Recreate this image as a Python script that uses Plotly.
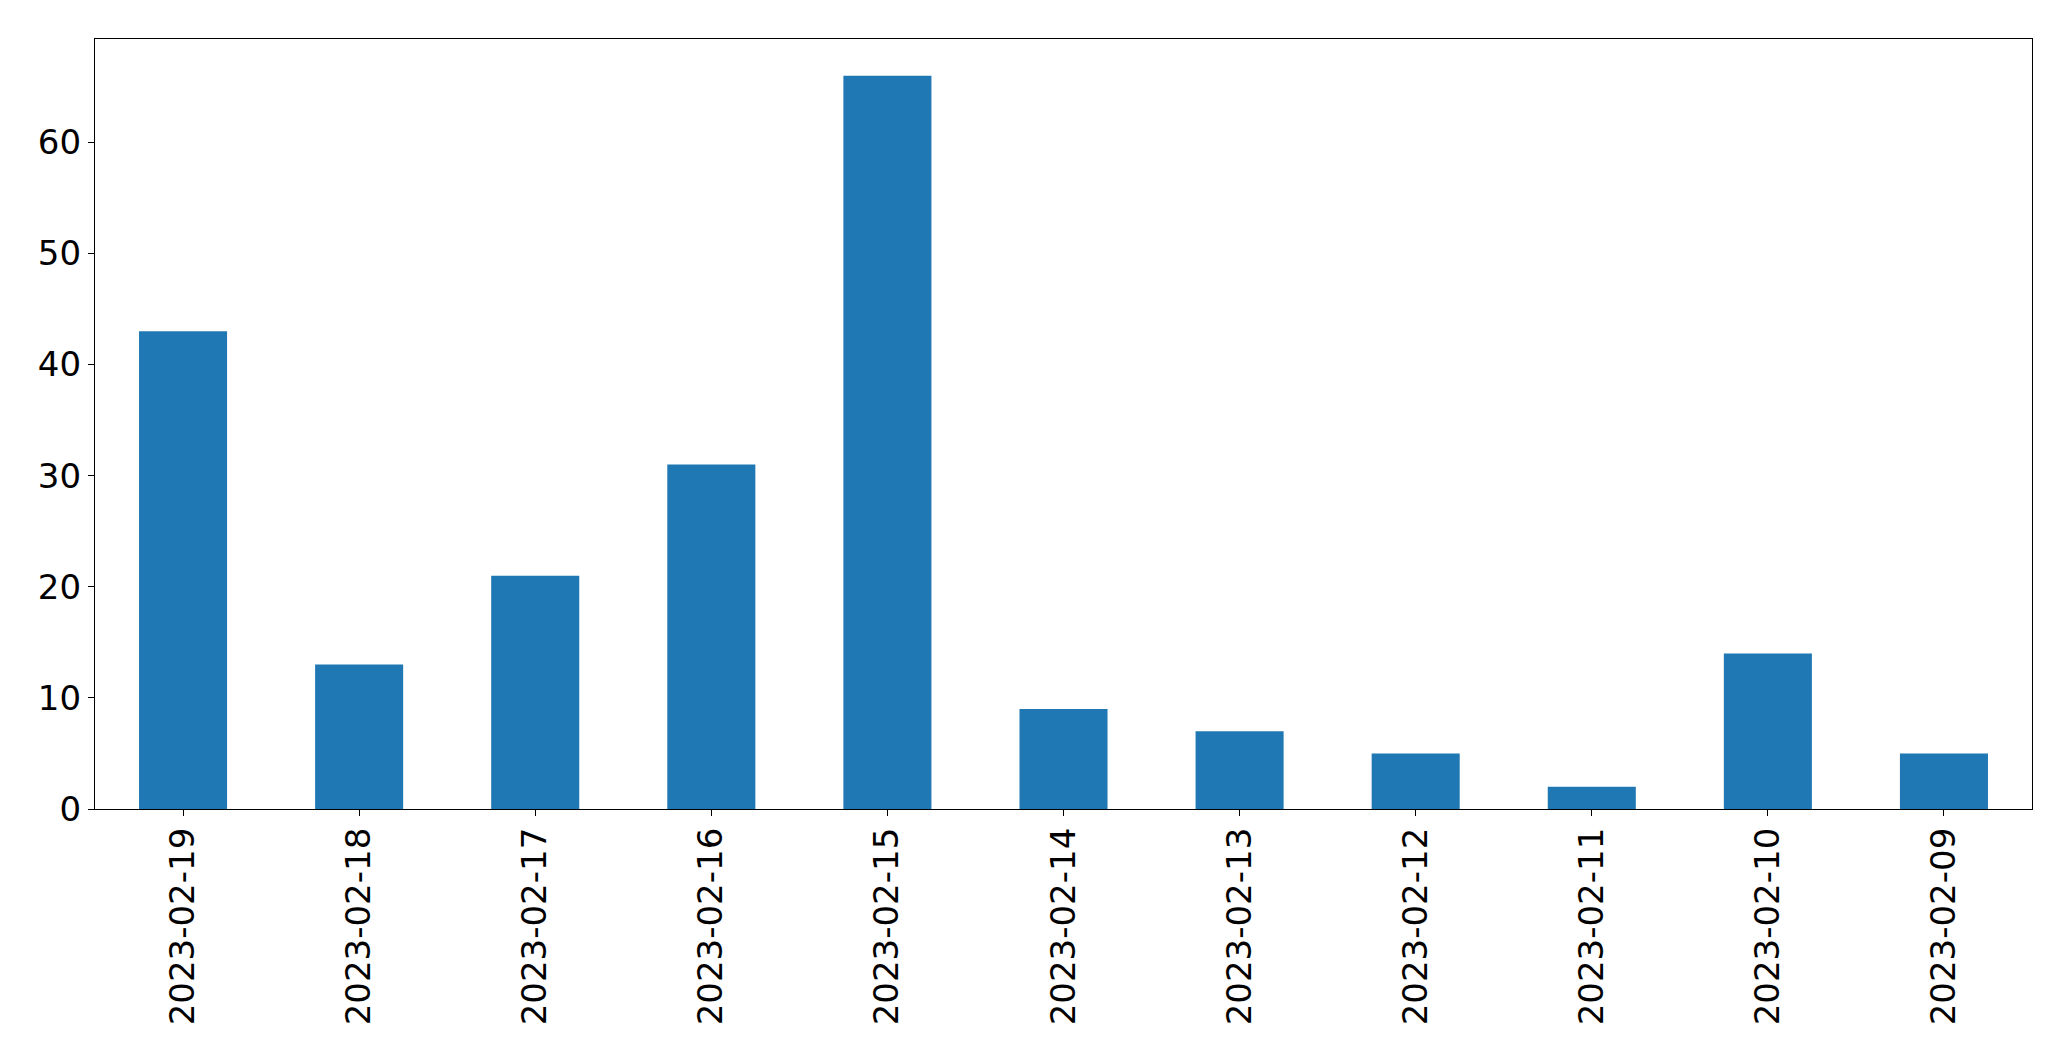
import plotly.graph_objects as go

dates = ["2023-02-19", "2023-02-18", "2023-02-17", "2023-02-16", "2023-02-15",
         "2023-02-14", "2023-02-13", "2023-02-12", "2023-02-11", "2023-02-10", "2023-02-09"]
counts = [43, 13, 21, 31, 66, 9, 7, 5, 2, 14, 5]

fig = go.Figure(go.Bar(x=dates, y=counts, width=0.5, marker=dict(color="#1f77b4", line=dict(width=0))))

fig.update_layout(
    width=2071, height=1061,
    margin=dict(l=95, r=39, t=39, b=252),
    plot_bgcolor="white", paper_bgcolor="white",
    font=dict(family="DejaVu Sans", size=34, color="black"),
    showlegend=False,
)
fig.update_xaxes(
    type="category", range=[-0.5, 10.5], tickangle=-90,
    showline=True, linecolor="black", linewidth=1.3, mirror=True,
    ticks="outside", ticklen=6, tickwidth=1.3, tickcolor="black",
    showgrid=False, zeroline=False, ticklabelstandoff=-2,
)
fig.update_yaxes(
    range=[0, 69.3], tickvals=[0, 10, 20, 30, 40, 50, 60],
    showline=True, linecolor="black", linewidth=1.3, mirror=True,
    ticks="outside", ticklen=6, tickwidth=1.3, tickcolor="black",
    showgrid=False, zeroline=False,
)
fig.write_html("out.html", config={"displayModeBar": False},
               post_script="document.body.style.margin='0';document.body.style.overflow='hidden';")
